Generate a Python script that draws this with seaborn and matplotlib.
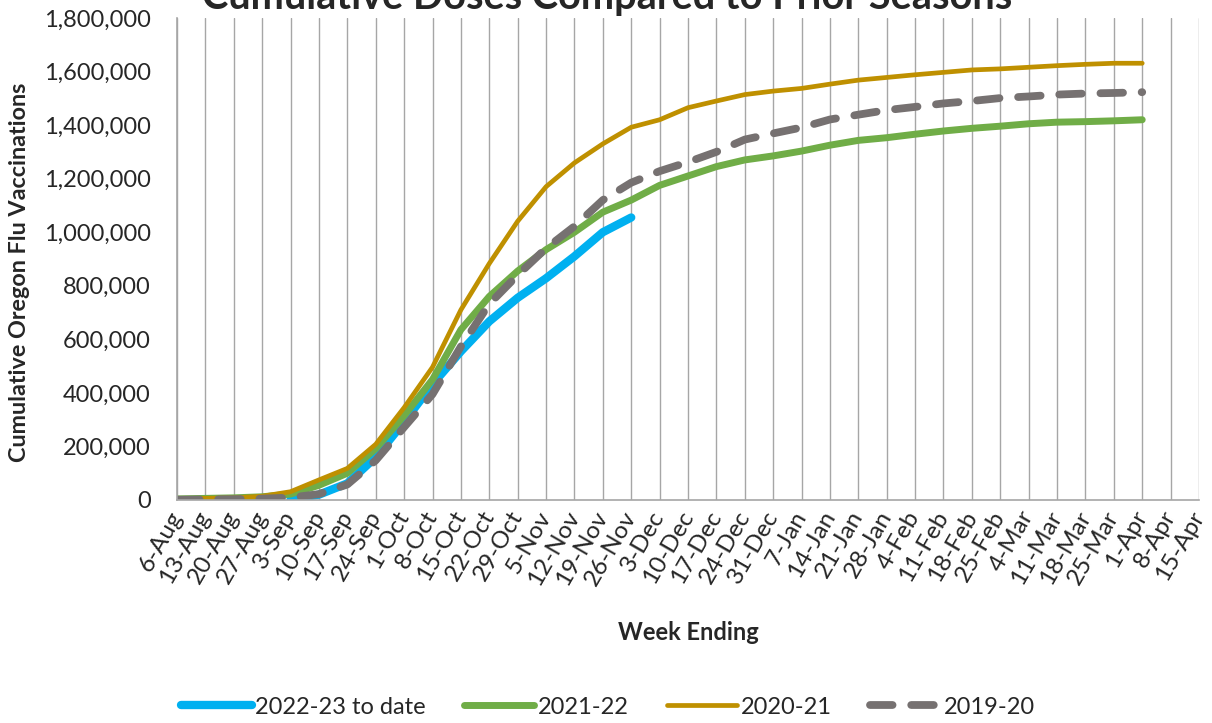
import numpy as np
import pandas as pd
import matplotlib
matplotlib.use("Agg")
import matplotlib.pyplot as plt
import seaborn as sns

# Week-ending dates shown on the category axis
weeks = [
    "6-Aug", "13-Aug", "20-Aug", "27-Aug",
    "3-Sep", "10-Sep", "17-Sep", "24-Sep",
    "1-Oct", "8-Oct", "15-Oct", "22-Oct", "29-Oct",
    "5-Nov", "12-Nov", "19-Nov", "26-Nov",
    "3-Dec", "10-Dec", "17-Dec", "24-Dec", "31-Dec",
    "7-Jan", "14-Jan", "21-Jan", "28-Jan",
    "4-Feb", "11-Feb", "18-Feb", "25-Feb",
    "4-Mar", "11-Mar", "18-Mar", "25-Mar",
    "1-Apr", "8-Apr", "15-Apr",
]

# Current season starts reporting on 3-Sep
season_2022_23_start = "3-Sep"
season_2022_23 = [
    2000, 20000, 62000, 160000, 292000, 432000, 555000, 667000,
    755000, 828000, 910000, 1000000, 1055000,
]

# Prior seasons, 6-Aug through 1-Apr
season_2021_22 = [
    4000, 6000, 8000, 12000, 22000, 55000, 100000, 192000,
    315000, 450000, 636000, 760000, 855000,
    935000, 1000000, 1075000, 1120000,
    1175000, 1210000, 1245000, 1270000, 1285000,
    1303000, 1325000, 1343000, 1353000,
    1366000, 1378000, 1388000, 1396000,
    1405000, 1411000, 1413000, 1416000, 1420000,
]
season_2020_21 = [
    5000, 6000, 8000, 14000, 31000, 75000, 118000, 208000,
    345000, 496000, 710000, 883000, 1041000,
    1170000, 1259000, 1330000, 1392000,
    1420000, 1465000, 1490000, 1514000, 1527000,
    1537000, 1553000, 1568000, 1578000,
    1588000, 1597000, 1606000, 1610000,
    1616000, 1622000, 1627000, 1631000, 1631000,
]
season_2019_20 = [
    1000, 2000, 3000, 5000, 9000, 22000, 58000, 148000,
    272000, 395000, 573000, 732000, 840000,
    940000, 1022000, 1120000, 1185000,
    1228000, 1262000, 1300000, 1346000, 1369000,
    1391000, 1421000, 1439000, 1456000,
    1468000, 1481000, 1490000, 1501000,
    1507000, 1514000, 1518000, 1520000, 1523000,
]

series_names = ["2022-23 to date", "2021-22", "2020-21", "2019-20"]
series_colors = ["#00B0F0", "#70AD47", "#BF9000", "#767171"]

# Long-form table: one row per (season, week)
rows = []
start = weeks.index(season_2022_23_start)
for i, v in enumerate(season_2022_23):
    rows.append((series_names[0], start + i, v))
for name, vals in zip(series_names[1:], [season_2021_22, season_2020_21, season_2019_20]):
    for i, v in enumerate(vals):
        rows.append((name, i, v))
df = pd.DataFrame(rows, columns=["season", "week", "doses"])

sns.set_style("white")
plt.rcParams["font.family"] = ["Lato", "DejaVu Sans"]

W, H = 1212, 723
fig = plt.figure(figsize=(W / 100, H / 100), dpi=100)
ax = fig.add_axes([177 / W, 1 - 500 / H, (1199 - 177) / W, (500 - 18) / H])

styles = {
    "2022-23 to date": dict(linewidth=6.0, solid_capstyle="round"),
    "2021-22": dict(linewidth=5.0, solid_capstyle="round"),
    "2020-21": dict(linewidth=3.4, solid_capstyle="round"),
    "2019-20": dict(linewidth=5.6, linestyle=(0, (2.9, 2.4)), dash_capstyle="round"),
}

for name, color in zip(series_names, series_colors):
    sub = df[df["season"] == name]
    sns.lineplot(data=sub, x="week", y="doses", ax=ax, color=color,
                 label=name, **styles[name])

ax.set_xlim(0, len(weeks) - 1)
ax.set_ylim(0, 1800000)
ax.set_xticks(range(len(weeks)))
ax.set_xticklabels(weeks, rotation=60, ha="right", va="center",
                   rotation_mode="anchor", fontsize=17.5)
yt = np.arange(0, 1800001, 200000)
ax.set_yticks(yt)
ax.set_yticklabels([f"{v:,}" for v in yt], fontsize=17)
ax.tick_params(axis="y", length=0, pad=19)
ax.tick_params(axis="x", length=0, pad=9)

ax.grid(axis="x", color="#A6A6A6", linewidth=1)
ax.grid(axis="y", visible=False)
for side in ["top", "right"]:
    ax.spines[side].set_visible(False)
for side in ["left", "bottom"]:
    ax.spines[side].set_color("#A6A6A6")
    ax.spines[side].set_linewidth(1.2)
ax.set_xlabel("")
ax.set_ylabel("")

fig.text(607 / W, 1 - 9 / H, "Cumulative Doses Compared to Prior Seasons",
         ha="center", va="baseline", fontsize=28.6, fontweight="bold")
fig.text(20 / W, 1 - 272 / H, "Cumulative Oregon Flu Vaccinations",
         ha="center", va="center", rotation=90, fontsize=16.8, fontweight="bold")
fig.text(688 / W, 1 - 632 / H, "Week Ending",
         ha="center", va="center", fontsize=17, fontweight="bold")

ax.get_legend().remove()
handles, labels = ax.get_legend_handles_labels()
fig.legend(handles, labels, loc="center", bbox_to_anchor=(608 / W, 1 - 707 / H),
           ncol=4, frameon=False, fontsize=17, handlelength=3.0,
           handletextpad=0.15, columnspacing=1.6)

fig.savefig("out.png", dpi=100)
